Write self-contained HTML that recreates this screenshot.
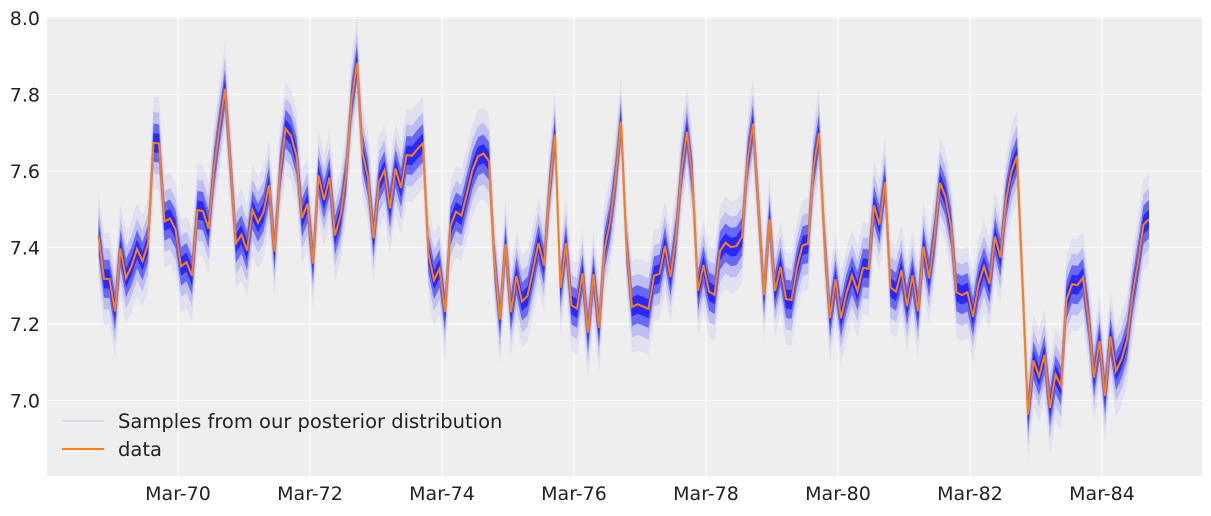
<!DOCTYPE html>
<html><head><meta charset="utf-8">
<style>
body{margin:0;background:#fff;font-family:"Liberation Sans","DejaVu Sans",sans-serif;}
svg text{font-family:"DejaVu Sans","Liberation Sans",sans-serif;fill:#222;}
</style></head>
<body>
<svg id="chart" width="1211" height="511" viewBox="0 0 1211 511" xmlns="http://www.w3.org/2000/svg">
<rect x="47" y="17" width="1155" height="459" fill="#eeeeee"/>
<g id="grid"></g>
<g id="bands"></g>
<g id="lines"></g>
<g id="axes"></g>
<g id="legend">
  <line x1="62" y1="421" x2="104" y2="421" stroke="#0000ff" stroke-opacity="0.12" stroke-width="1.5"/>
  <text x="118" y="428" font-size="19.5">Samples from our posterior distribution</text>
  <line x1="62" y1="449" x2="104" y2="449" stroke="#ff7f0e" stroke-width="2"/>
  <text x="118" y="456" font-size="19.5">data</text>
</g>
</svg>
<script>
const counts = [
1687,1508,1507,1385,1632,1511,1559,1630,1579,1653,2152,2148,
1752,1765,1717,1558,1575,1520,1805,1800,1719,2008,2242,2478,
2030,1655,1693,1623,1805,1746,1795,1926,1619,1992,2233,2192,
2080,1768,1835,1569,1976,1853,1965,1689,1778,1976,2397,2654,
2097,1963,1677,1941,2003,1813,2012,1912,2084,2080,2118,2150,
1608,1503,1548,1382,1731,1798,1779,1887,2004,2077,2092,2051,
1577,1356,1652,1382,1519,1421,1442,1543,1656,1561,1905,2199,
1473,1655,1407,1395,1530,1309,1526,1327,1627,1748,1958,2274,
1648,1401,1411,1403,1394,1520,1528,1643,1515,1685,2000,2215,
1956,1462,1563,1459,1446,1622,1657,1638,1643,1683,2050,2262,
1813,1445,1762,1461,1556,1431,1427,1554,1645,1653,2016,2207,
1665,1361,1506,1360,1453,1522,1460,1552,1548,1827,1737,1941,
1474,1458,1542,1404,1522,1385,1641,1510,1681,1938,1868,1726,
1456,1445,1456,1365,1487,1558,1488,1684,1594,1850,1998,2079,
1494,1057,1218,1168,1236,1076,1174,1139,1427,1487,1483,1513,
1357,1165,1282,1110,1297,1185,1222,1284,1444,1575,1737,1763];
const yTicks = [7.0,7.2,7.4,7.6,7.8,8.0];
const xTickLabels = ["Mar-70","Mar-72","Mar-74","Mar-76","Mar-78","Mar-80","Mar-82","Mar-84"];
const xTickMonths = [14,38,62,86,110,134,158,182];

const NS="http://www.w3.org/2000/svg";
const x = i => 98.5 + i*5.5;
const tx0 = m => 178 + (m-14)*5.5;
const y = v => 17 + (8.003 - v)/(8.003-6.803)*459;
const vals = counts.map(c=>Math.log(c));
function mk(tag, attrs, parent){const e=document.createElementNS(NS,tag);for(const k in attrs)e.setAttribute(k,attrs[k]);parent.appendChild(e);return e;}
const grid=document.getElementById('grid'), axes=document.getElementById('axes');
yTicks.forEach(t=>{
  const l=mk('line',{x1:47,x2:1202,y1:y(t),y2:y(t),stroke:'#fff','stroke-width':1},grid);
  
  
  const tx=mk('text',{x:40,y:y(t)+7,'text-anchor':'end','font-size':19},axes);
  tx.textContent=t.toFixed(1);
  
  
});
xTickMonths.forEach((m,k)=>{
  const l=mk('line',{x1:tx0(m),x2:tx0(m),y1:17,y2:476,stroke:'#fff','stroke-width':1},grid);
  
  
  const tx=mk('text',{x:tx0(m),y:500,'text-anchor':'middle','font-size':19},axes);
  tx.textContent=xTickLabels[k];
  
  
});
const bands=document.getElementById('bands');
function band(w, op, name){
  let top=vals.map((v,i)=>x(i)+','+y(v+w)).join(' ');
  let bot=vals.map((v,i)=>x(i)+','+y(v-w)).reverse().join(' ');
  const p=mk('polygon',{points:top+' '+bot,fill:'#0000ff','fill-opacity':op},bands);
  
  
}
band(0.12,0.06,'posterior-band-outer');
band(0.08,0.15,'posterior-band-mid');
band(0.05,0.45,'posterior-band-inner');
band(0.025,0.6,'posterior-band-core');
const lines=document.getElementById('lines');
const dl=mk('polyline',{points:vals.map((v,i)=>x(i)+','+y(v)).join(' '),fill:'none',stroke:'#ff7f0e','stroke-width':2},lines);


</script>
</body></html>
